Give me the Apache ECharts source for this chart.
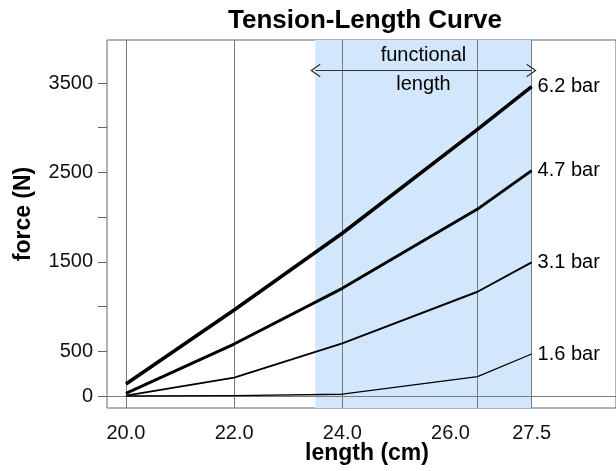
<!DOCTYPE html>
<html>
<head>
<meta charset="utf-8">
<script src="https://cdn.jsdelivr.net/npm/echarts@6/dist/echarts.min.js"></script>
<style>html,body{margin:0;padding:0;background:#fff}#c{width:616px;height:471px}</style>
</head>
<body>
<div id="c"></div>
<script>
// ---- data ----
const lengths = [20, 22, 24, 26.5, 27.5];
const bar62 = [135, 962, 1820, 2982, 3460];
const bar47 = [30, 581, 1204, 2090, 2520];
const bar31 = [5, 205, 589, 1166, 1495];
const bar16 = [0, 5, 20, 216, 470];
const seriesNames = ['6.2 bar', '4.7 bar', '3.1 bar', '1.6 bar'];
const xTickValues = [20, 22, 24, 26, 27.5];
const yTickValues = [0, 500, 1000, 1500, 2000, 2500, 3000, 3500];
const yLabelValues = [0, 500, 1500, 2500, 3500];
const measuredLengths = [20, 22, 24, 26.5, 27.5];
const functionalRange = [23.5, 27.5];

const FONT = '"Liberation Sans", Arial, Helvetica, sans-serif';
const chart = echarts.init(document.getElementById('c'));

function pairs(vals) { return lengths.map((x, i) => [x, vals[i]]); }
const widths = [3.6, 2.9, 1.9, 1.3];
const allVals = [bar62, bar47, bar31, bar16];

const chevron = 'path://M0,10 L5,0 L10,10 L8.9,10 L5,2.2 L1.1,10 Z';

const series = allVals.map((v, i) => ({
  name: seriesNames[i],
  type: 'line',
  data: pairs(v),
  showSymbol: false,
  symbol: 'none',
  z: 5,
  lineStyle: { color: '#000', width: widths[i], join: 'round' },
  endLabel: { show: true, formatter: seriesNames[i], color: '#000', fontFamily: FONT, fontSize: 20, distance: 6 },
  animation: false
}));

series.push({
  type: 'line', data: [], z: 2, animation: false,
  markArea: {
    silent: true,
    itemStyle: { color: '#d2e7fc' },
    data: [[{ xAxis: functionalRange[0] }, { xAxis: functionalRange[1] }]]
  },
  markLine: {
    silent: true, symbol: 'none', animation: false,
    label: { show: false },
    lineStyle: { color: '#7a7a7a', width: 1, type: 'solid' },
    data: measuredLengths.map(x => ({ xAxis: x })).concat([{ yAxis: 0 }])
  }
});
series.push({
  type: 'line', data: [], z: 6, animation: false,
  markLine: {
    silent: true, animation: false,
    symbol: [chevron, chevron], symbolSize: [14, 10],
    label: { show: false },
    lineStyle: { color: '#333', width: 1, type: 'solid' },
    data: [[{ coord: [functionalRange[0], 3640] }, { coord: [functionalRange[1], 3640] }]]
  },
  markPoint: {
    silent: true, animation: false, symbol: 'rect', symbolSize: 1,
    itemStyle: { color: 'rgba(0,0,0,0)' },
    label: { show: true, color: '#000', fontFamily: FONT, fontSize: 20, position: 'inside' },
    data: [
      { coord: [(functionalRange[0] + functionalRange[1]) / 2, 3805], value: 1, label: { formatter: 'functional' } },
      { coord: [(functionalRange[0] + functionalRange[1]) / 2, 3485], value: 2, label: { formatter: 'length' } }
    ]
  }
});

chart.setOption({
  animation: false,
  backgroundColor: '#fff',
  grid: { left: 107, right: -3, top: 40, bottom: 63, show: true, borderColor: '#666', borderWidth: 1, backgroundColor: 'transparent' },
  xAxis: {
    type: 'value', min: 19.65, max: 29.06,
    axisLine: { show: false },
    splitLine: { show: false },
    axisTick: { show: true, length: 8, lineStyle: { color: '#666' }, customValues: xTickValues },
    axisLabel: { customValues: xTickValues, formatter: v => v.toFixed(1), color: '#111', fontFamily: FONT, fontSize: 20, margin: 15 }
  },
  yAxis: {
    type: 'value', min: -134, max: 3981,
    axisLine: { show: false },
    splitLine: { show: false },
    axisTick: { show: true, length: 9, lineStyle: { color: '#666' }, customValues: yTickValues },
    axisLabel: { customValues: yLabelValues, formatter: v => String(v), color: '#111', fontFamily: FONT, fontSize: 20, margin: 14 }
  },
  graphic: [
    { type: 'text', x: 365, y: 21, style: { text: 'Tension-Length Curve', font: 'bold 26px ' + FONT, fill: '#000', align: 'center', verticalAlign: 'middle' } },
    { type: 'text', x: 367, y: 454, style: { text: 'length (cm)', font: 'bold 23px ' + FONT, fill: '#000', align: 'center', verticalAlign: 'middle' } },
    { type: 'text', x: 24, y: 214, rotation: Math.PI / 2, style: { text: 'force (N)', font: 'bold 23px ' + FONT, fill: '#000', align: 'center', verticalAlign: 'middle' } }
  ],
  series: series
});
</script>
</body>
</html>
